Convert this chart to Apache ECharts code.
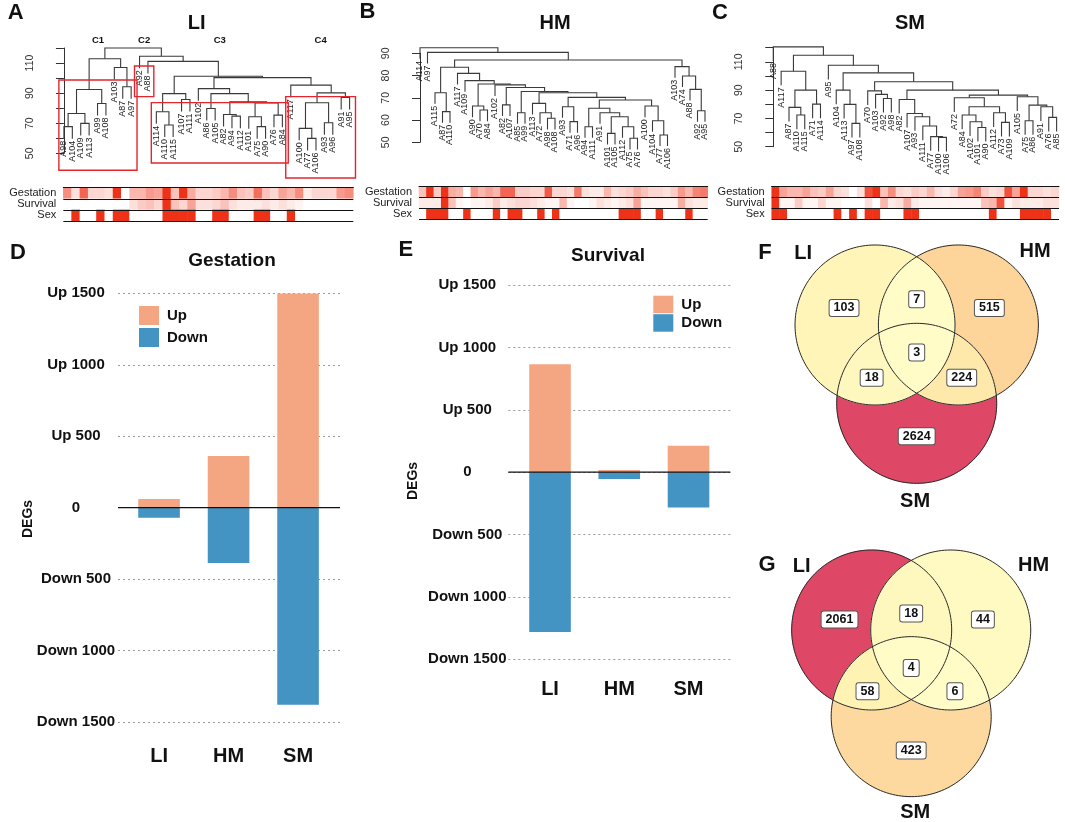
<!DOCTYPE html>
<html>
<head>
<meta charset="utf-8">
<script src="https://cdn.jsdelivr.net/npm/echarts@6/dist/echarts.min.js"></script>
<style>html,body{margin:0;padding:0;background:#fff}#chart{width:1065px;height:822px}</style>
</head>
<body>
<div id="chart"></div>
<script>
// ================= DATA =================
// Dendrograms: nested [left, right, mergeHeight]; leaves are sample names
const LI_tree = [
  [
    [[['A98','A104',67.7],['A109','A113',69.9],76.5],['A99','A108',83.1],92.4],
    ['A103',['A87','A97',94.2],107.0],
    112.9
  ],
  ['A92',
    ['A88',
      [
        [['A114',['A110','A115',68.8],77.6],['A107','A111',85.8],89.7],
        [
          ['A102',[['A86','A105',79.8],[['A82',['A94','A112',74.7],75.8],[['A101',['A75','A90',67.7],74.3],['A76','A84',75.4],83.5],84.2],89.7],93.0],
          ['A117',[[['A100',['A77','A106',59.9],66.6],['A93','A96',70.3],83.6],['A91','A95',87.1],90.2],95.3],
          100.3
        ],
        101.2
      ],
      111.1
    ],
    114.5
  ],
  120.0
];
const HM_tree = ['A114',
  ['A97',
    [
      [
        ['A115',['A87','A110',63.8],72.3],
        ['A117',
          ['A109',
            [
              ['A90',['A70','A84',64.5],66.3],
              ['A102',
                [
                  ['A82','A107',66.8],
                  [
                    ['A85','A99',63.3],
                    [
                      ['A113',['A72',['A98','A108',60.8],63.3],67.5],
                      [
                        ['A93',['A71','A96',59.3],66.0],
                        [
                          [['A94','A111',57.0],['A91',[['A101','A105',54.0],['A112',['A75','A76',51.8],57.0],61.5],63.3],65.3],
                          ['A100',['A104',['A77','A106',53.3],59.7],66.3],
                          69.0
                        ],
                        70.2
                      ],
                      72.3
                    ],
                    72.8
                  ],
                  74.6
                ],
                75.8
              ],
              76.2
            ],
            77.7
          ],
          81.0
        ],
        83.7
      ],
      ['A103',['A74',['A88',['A92','A95',64.2],73.8],79.8],84.0],
      87.0
    ],
    90.4
  ],
  92.5
];
const SM_tree = ['A88',
  [
    ['A117',[['A87',['A110','A115',72.4],77.8],['A71','A114',80.1],90.0],103.4],
    ['A95',
      [
        ['A104',['A113',['A97','A108',66.5],79.9],90.0],
        [
          ['A70',['A103',['A92','A98',84.1],87.0],89.5],
          [
            ['A82',['A107',['A93',['A111',['A77',['A100','A106',56.6],57.1],64.6],71.2],73.5],83.4],
            [
              ['A72',[['A84',['A102',['A101','A90',63.6],67.6],72.4],['A112',['A73','A109',67.2],74.0],78.2],84.6],
              ['A105',[['A75','A86',68.4],['A91',['A76','A85',70.7],78.2],79.4],85.3],
              86.5
            ],
            90.0
          ],
          95.9
        ],
        102.2
      ],
      107.6
    ],
    114.7
  ],
  120.6
];

// Trait colour strips (0 = white, 1 = full red), in leaf order
const HEAT_rows = ['Gestation','Survival','Sex'];
const LI_gestation = [0.55,0.15,0.75,0.2,0.2,0.15,1.0,0.0,0.35,0.35, 0.5,0.45,1.0,0.3,1.0,0.4,0.2,0.2,0.25,0.35, 0.55,0.3,0.25,0.7,0.3,0.2,0.45,0.35,0.55,0.1, 0.2,0.2,0.2,0.5,0.55];
const LI_survival  = [0,0,0,0,0,0,0,0,0.15,0.25, 0.3,0.2,1.0,0.3,0.2,0.45,0.15,0.15,0.2,0.3, 0.15,0.1,0.1,0.1,0.15,0.1,0.15,0.1,0.05,0, 0,0,0,0,0];
const LI_sex       = [0,1,0,0,1,0,1,1,0,0, 0,0,1,1,1,1,0,0,1,1, 0,0,0,1,1,0,0,1,0,0, 0,0,0,0,0];
const HM_gestation = [0.3,1.0,0.25,1.0,0.4,0.35,0,0.5,0.35,0.45, 0.35,0.75,0.75,0.25,0.25,0.2,0.2,0.8,0.2,0.2, 0.15,0.65,0.15,0.1,0.1,0.35,0.15,0.2,0.25,0.4, 0.3,0.2,0.2,0.15,0.25,0.5,0.35,0.6,0.65];
const HM_survival  = [0.1,0.1,0.1,1.0,0.3,0.05,0,0.05,0.05,0.1, 0.25,0.1,0.15,0.2,0.2,0.15,0.1,0.05,0.05,0.35, 0.05,0,0,0.05,0.15,0.1,0.05,0.1,0.15,0.45, 0.05,0.05,0.05,0.05,0.05,0.4,0.15,0.1,0.1];
const HM_sex       = [0,1,1,1,0,0,1,0,0,0, 1,0,1,1,0,0,1,0,1,0, 0,0,0,0,0,0,0,1,1,1, 0,0,1,0,0,0,1,0,0];
const SM_gestation = [1.0,0.45,0.35,0.35,0.45,0.3,0.25,0.45,0.2,0.15, 0,0.15,0.85,1.0,0.3,0.55,0.2,0.15,0.25,0.2, 0.35,0.15,0.1,0.2,0.45,0.5,0.6,0.25,0.15,0.2, 0.85,0.45,1.0,0.2,0.2,0.15,0.2];
const SM_survival  = [1.0,0.05,0.05,0.25,0.05,0.05,0.2,0.05,0.05,0, 0,0,0.15,0,0.35,0.1,0.15,0.4,0.1,0.05, 0.05,0.05,0.05,0.05,0.05,0.05,0.05,0.3,0.35,0.85, 0.05,0.15,0.1,0.1,0.1,0.15,0.15];
const SM_sex       = [1,1,0,0,0,0,0,0,1,0, 1,0,1,1,0,0,0,1,1,0, 0,0,0,0,0,0,0,0,1,0, 0,0,1,1,1,1,0];

// LI clusters (leaf index ranges)
const LI_clusters = ['C1','C2','C3','C4'];
const LI_clusterLeaves = [[0,8],[9,10],[11,26],[27,34]];

// DEG bar charts
const DE_categories = ['LI','HM','SM'];
const gestation_up   = [60, 362, 1498];
const gestation_down = [71, 388, 1380];
const survival_up    = [865, 18, 211];
const survival_down  = [1282, 54, 283];

// Venn counts, region order: LI only, HM only, SM only, LI&HM, LI&SM, HM&SM, all three
const VENN_sets = ['LI','HM','SM'];
const F_counts = [103, 515, 2624, 7, 18, 224, 3];
const G_counts = [2061, 44, 423, 18, 58, 6, 4];

// ================= LAYOUT & STYLE =================
const FONT = "'Liberation Sans', Arial, sans-serif";
const DENDRO_LINE = '#3a3a3a';
const HEAT_RED = '#EE3218';
const BOX_RED = '#E3262E';
const UP_COLOR = '#F4A582';
const DOWN_COLOR = '#4393C3';
const F_COLORS = ['#FFF5B9','#FDD59B','#DE4866','#FFFCC8','#FFF8BE','#FEE8AA','#FFFCC8'];
const G_COLORS = ['#DE4866','#FFFAC2','#FDD9A0','#FFF8BE','#FFF3B4','#FFFCC8','#FFFCC8'];

const DENDRO = [
  {tree: LI_tree, grid:{left:53, top:48, width:305, height:105.3}, x:[-1.3,35], y:[50,120], hang:8, labelMargin:17, labelEvery:20, labelMax:110},
  {tree: HM_tree, grid:{left:408, top:53.3, width:307.5, height:89}, x:[-1.6,39.4], y:[50,90], hang:5, labelMargin:16, labelEvery:10, labelMax:90},
  {tree: SM_tree, grid:{left:758, top:47.7, width:305.7, height:99}, x:[-1.94,36.9], y:[50,120], hang:10, labelMargin:13, labelEvery:20, labelMax:110}
];
const HEAT = [
  {rows:[LI_gestation, LI_survival, LI_sex], grid:{left:63.3, top:187.7, width:290, height:33.3}},
  {rows:[HM_gestation, HM_survival, HM_sex], grid:{left:419, top:186.7, width:288.7, height:32.6}},
  {rows:[SM_gestation, SM_survival, SM_sex], grid:{left:771.7, top:186.7, width:287.3, height:32.6}}
];
const LI_BOX = {padL:0.6, padR:0.7, heights:[[98.7,38.7],[108,87.7],[83.7,43.6],[87.7,33.6]], labelH:125.3};
const BARS = [
  {up:gestation_up, down:gestation_down,
   axisGrid:{left:118, top:293.3, width:222, height:428.7}, barGrid:{left:124.3, top:293.3, width:208.5, height:428.7},
   labelMargin:42, catMargin:24, legend:{left:139, top:306, itemHeight:19, itemGap:3}},
  {up:survival_up, down:survival_down,
   axisGrid:{left:508.3, top:285, width:222, height:374.3}, barGrid:{left:515.4, top:285, width:207.75, height:374.3},
   labelMargin:41, catMargin:20, legend:{left:653.3, top:295.7, itemHeight:17.5, itemGap:1}}
];
const VENN = [
  {counts:F_counts, colors:F_COLORS, grid:{left:764.7, top:229, width:300, height:272}, x:[-1.9,1.85], y:[-2.2,1.2],
   centers:[[-0.521,0],[0.521,0],[0,-0.979]], names:[[-1.42,0.90],[1.48,0.92],[-0.02,-2.21]], labelShift:[0,0]},
  {counts:G_counts, colors:G_COLORS, grid:{left:763.2, top:534, width:300, height:272}, x:[-1.85,1.9], y:[-2.2,1.2],
   centers:[[-0.494,0],[0.494,0],[0,-1.083]], names:[[-1.37,0.79],[1.53,0.81],[0.05,-2.28]], labelShift:[0,-0.065]}
];
const TEXTS = [
  ['A', 15.8, 12.8, 22], ['B', 367.5, 11.7, 22], ['C', 720, 12.5, 22], ['D', 18, 253.3, 22],
  ['E', 405.8, 250, 22], ['F', 765, 253.3, 22], ['G', 767, 565, 22],
  ['LI', 196.7, 23.7, 20], ['HM', 555, 23.3, 20], ['SM', 910, 23.3, 20],
  ['Gestation', 232, 260.8, 19], ['Survival', 608, 255.7, 19]
];
const DEGS_POS = [[28, 519], [413, 481]];

// ================= HELPERS =================
function layoutTree(tree, hang){
  const leaves=[], segs=[], ends=[];
  (function walk(node){
    if (typeof node === 'string'){ leaves.push(node); return {x:leaves.length-1, leaf:true}; }
    const l=walk(node[0]), r=walk(node[1]), h=node[2];
    const yl=l.leaf ? h-hang : l.h, yr=r.leaf ? h-hang : r.h;
    if (l.leaf) ends.push([l.x, yl]);
    if (r.leaf) ends.push([r.x, yr]);
    segs.push([l.x, r.x, yl, yr, h]);
    return {x:(l.x+r.x)/2, h:h, leaf:false};
  })(tree);
  ends.sort((a,b)=>a[0]-b[0]);
  return {leaves, segs, ends};
}

const REGION_SPECS = [
  [[1,0,0], 'AB_out', [[0,'AC_out'],[2,'BC_in'],[1,'AB_out']]],
  [[0,1,0], 'AB_out', [[1,'BC_out'],[2,'AC_in'],[0,'AB_out']]],
  [[0,0,1], 'AC_out', [[2,'BC_out'],[1,'AB_in'],[0,'AC_out']]],
  [[1,1,0], 'AB_out', [[0,'AC_in'],[2,'BC_in'],[1,'AB_out']]],
  [[1,0,1], 'AC_out', [[0,'AB_in'],[1,'BC_in'],[2,'AC_out']]],
  [[0,1,1], 'BC_out', [[1,'AB_in'],[0,'AC_in'],[2,'BC_out']]],
  [[1,1,1], 'AB_in',  [[0,'AC_in'],[2,'BC_in'],[1,'AB_in']]]
];
function centroid(pts){
  let A=0,cx=0,cy=0;
  for (let i=0;i<pts.length;i++){
    const [x0,y0]=pts[i], [x1,y1]=pts[(i+1)%pts.length];
    const f=x0*y1-x1*y0; A+=f; cx+=(x0+x1)*f; cy+=(y0+y1)*f;
  }
  A/=2; return [cx/(6*A), cy/(6*A)];
}
function vennGeometry(centers){
  const C=centers.map(c=>({x:c[0], y:c[1], r:1}));
  const inside=(p,c)=>Math.hypot(p.x-c.x,p.y-c.y) < c.r-1e-7;
  function inter(i,j){
    const a=C[i], b=C[j], dx=b.x-a.x, dy=b.y-a.y, d=Math.hypot(dx,dy);
    const l=(a.r*a.r-b.r*b.r+d*d)/(2*d), h=Math.sqrt(a.r*a.r-l*l);
    const mx=a.x+l*dx/d, my=a.y+l*dy/d;
    const p1={x:mx+h*dy/d, y:my-h*dx/d}, p2={x:mx-h*dy/d, y:my+h*dx/d};
    const k=3-i-j;
    return inside(p1,C[k]) ? {in:p1,out:p2} : {in:p2,out:p1};
  }
  const AB=inter(0,1), AC=inter(0,2), BC=inter(1,2);
  const P={AB_in:AB.in, AB_out:AB.out, AC_in:AC.in, AC_out:AC.out, BC_in:BC.in, BC_out:BC.out};
  function arc(k,p,q,sig){
    const c=C[k];
    const a0=Math.atan2(p.y-c.y,p.x-c.x), a1=Math.atan2(q.y-c.y,q.x-c.x);
    let d=a1-a0; while (d<=0) d+=2*Math.PI;
    const cands=[d, d-2*Math.PI]; let pick=cands[0];
    for (const dd of cands){
      const am=a0+dd/2, m={x:c.x+c.r*Math.cos(am), y:c.y+c.r*Math.sin(am)};
      let ok=true;
      for (let j=0;j<3;j++){ if (j===k) continue; if (inside(m,C[j]) !== !!sig[j]) ok=false; }
      if (ok){ pick=dd; break; }
    }
    const n=Math.max(6, Math.ceil(Math.abs(pick)/0.03)), pts=[];
    for (let s=0;s<=n;s++){ const a=a0+pick*s/n; pts.push([c.x+c.r*Math.cos(a), c.y+c.r*Math.sin(a)]); }
    return pts;
  }
  return REGION_SPECS.map(([sig,start,edges])=>{
    let cur=P[start], poly=[];
    edges.forEach(([k,endKey])=>{ poly=poly.concat(arc(k,cur,P[endKey],sig).slice(0,-1)); cur=P[endKey]; });
    return {poly, centroid:centroid(poly)};
  });
}
function txtStyle(text, size, weight, align, vAlign, extra){
  return Object.assign({text:text, fontSize:size, fontWeight:weight, fontFamily:FONT, fill:'#111',
    align:align, verticalAlign:vAlign, textAlign:align, textVerticalAlign:vAlign}, extra||{});
}

// ================= BUILD OPTION =================
const grids=[], xAxes=[], yAxes=[], series=[], heatIdx=[];
function addGrid(g){ grids.push(Object.assign({containLabel:false}, g)); return grids.length-1; }

DENDRO.forEach(d=>{
  const gi=addGrid(d.grid);
  const lay=layoutTree(d.tree, d.hang); d.layout=lay;
  xAxes.push({gridIndex:gi, type:'value', min:d.x[0], max:d.x[1], show:false});
  yAxes.push({gridIndex:gi, type:'value', min:d.y[0], max:d.y[1], interval:10,
    axisLine:{show:true, lineStyle:{color:'#333', width:1}},
    axisTick:{show:true, length:8, lineStyle:{color:'#333', width:1}},
    splitLine:{show:false},
    axisLabel:{rotate:90, margin:d.labelMargin, fontSize:10.5, fontFamily:FONT, color:'#333',
      formatter:v=>(((v-d.y[0])%d.labelEvery===0) && v<=d.labelMax) ? String(v) : ''}});
  series.push({type:'custom', xAxisIndex:gi, yAxisIndex:gi, silent:true, clip:false,
    dimensions:['xl','xr','yl','yr','h'], encode:{x:[0,1], y:[2,3,4]}, data:lay.segs,
    renderItem:(p,api)=>({type:'polyline', shape:{points:[
        api.coord([api.value(0),api.value(2)]), api.coord([api.value(0),api.value(4)]),
        api.coord([api.value(1),api.value(4)]), api.coord([api.value(1),api.value(3)])]},
      style:{stroke:DENDRO_LINE, lineWidth:1.1, fill:'none'}})});
  series.push({type:'custom', xAxisIndex:gi, yAxisIndex:gi, silent:true, clip:false, data:lay.ends,
    renderItem:(p,api)=>{
      const pt=api.coord([api.value(0),api.value(1)]);
      return {type:'text', x:pt[0], y:pt[1]+2, rotation:Math.PI/2,
        style:txtStyle(lay.leaves[p.dataIndex], 9, 'normal', 'right', 'middle', {fill:'#222'})};
    }});
});

// LI cluster boxes
series.push({type:'custom', xAxisIndex:0, yAxisIndex:0, silent:true, clip:false, z:4,
  data:LI_clusterLeaves.map(r=>[r[0],r[1]]),
  renderItem:(p,api)=>{
    const i=p.dataIndex, f=api.value(0), l=api.value(1), hh=LI_BOX.heights[i];
    const p0=api.coord([f-LI_BOX.padL, hh[0]]), p1=api.coord([l+LI_BOX.padR, hh[1]]);
    const lp=api.coord([(f-LI_BOX.padL+l+LI_BOX.padR)/2, LI_BOX.labelH]);
    return {type:'group', children:[
      {type:'rect', shape:{x:p0[0], y:p0[1], width:p1[0]-p0[0], height:p1[1]-p0[1]}, style:{fill:'none', stroke:BOX_RED, lineWidth:1.4}},
      {type:'text', x:lp[0], y:lp[1], style:txtStyle(LI_clusters[i], 9.5, 'bold', 'center', 'middle')}
    ]};
  }});

HEAT.forEach((h,hi)=>{
  const gi=addGrid(h.grid);
  xAxes.push({gridIndex:gi, type:'category', data:DENDRO[hi].layout.leaves, position:'top', z:10,
    axisLine:{show:true, lineStyle:{color:'#111', width:1}}, axisTick:{show:false}, axisLabel:{show:false}, splitLine:{show:false}});
  yAxes.push({gridIndex:gi, type:'category', data:HEAT_rows, inverse:true, z:10,
    axisLine:{show:false}, axisTick:{show:false},
    axisLabel:{interval:0, fontSize:11, fontFamily:FONT, color:'#222', margin:7},
    splitLine:{show:true, interval:0, lineStyle:{color:'#111', width:1}}});
  const data=[];
  h.rows.forEach((arr,r)=>arr.forEach((v,c)=>data.push([c,r,v])));
  heatIdx.push(series.length);
  series.push({type:'heatmap', xAxisIndex:gi, yAxisIndex:gi, data:data, itemStyle:{borderWidth:0}, silent:true, z:1});
});

BARS.forEach(b=>{
  const ga=addGrid(b.axisGrid), gb=addGrid(b.barGrid);
  xAxes.push({gridIndex:ga, type:'value', min:0, max:1, show:false});
  yAxes.push({gridIndex:ga, type:'value', min:-1500, max:1500, interval:500,
    axisLine:{show:false}, axisTick:{show:false},
    splitLine:{show:true, lineStyle:{color:'#9a9a9a', type:[2,3], width:1}},
    axisLabel:{formatter:v=>v>0?('Up '+v):(v<0?('Down '+(-v)):'0'), align:'center', margin:b.labelMargin,
      fontFamily:FONT, fontWeight:'bold', fontSize:15, color:'#111'}});
  xAxes.push({gridIndex:gb, type:'category', data:DE_categories, axisLine:{show:false}, axisTick:{show:false},
    axisLabel:{margin:b.catMargin, fontFamily:FONT, fontWeight:'bold', fontSize:20, color:'#111'}});
  yAxes.push({gridIndex:gb, type:'value', min:-1500, max:1500, show:false});
  series.push({type:'line', xAxisIndex:ga, yAxisIndex:ga, data:[[0,0],[1,0]], symbol:'none', silent:true,
    lineStyle:{color:'#111', width:1.2}, z:5});
  series.push({name:'Up', type:'bar', xAxisIndex:gb, yAxisIndex:gb, data:b.up, barWidth:41.6, itemStyle:{color:UP_COLOR}, z:2});
  series.push({name:'Down', type:'bar', xAxisIndex:gb, yAxisIndex:gb, data:b.down.map(v=>-v), barWidth:41.6, barGap:'-100%', itemStyle:{color:DOWN_COLOR}, z:2});
});

VENN.forEach(v=>{
  const gi=addGrid(v.grid);
  xAxes.push({gridIndex:gi, type:'value', min:v.x[0], max:v.x[1], show:false});
  yAxes.push({gridIndex:gi, type:'value', min:v.y[0], max:v.y[1], show:false});
  const geo=vennGeometry(v.centers);
  series.push({type:'custom', xAxisIndex:gi, yAxisIndex:gi, silent:true, clip:false, z:2,
    data:v.counts.map((c,i)=>[i,c]),
    renderItem:(p,api)=>({type:'polygon', shape:{points:geo[p.dataIndex].poly.map(pt=>api.coord(pt))},
      style:{fill:v.colors[p.dataIndex], stroke:v.colors[p.dataIndex], lineWidth:0.6}})});
  series.push({type:'custom', xAxisIndex:gi, yAxisIndex:gi, silent:true, clip:false, z:3,
    data:VENN_sets.map((s,i)=>[i,0]),
    renderItem:(p,api)=>{
      const c=v.centers[p.dataIndex], pts=[];
      for (let k=0;k<=160;k++){ const a=k/160*2*Math.PI; pts.push(api.coord([c[0]+Math.cos(a), c[1]+Math.sin(a)])); }
      const np=api.coord(v.names[p.dataIndex]);
      return {type:'group', children:[
        {type:'polyline', shape:{points:pts}, style:{fill:'none', stroke:'#2a2a2a', lineWidth:1}},
        {type:'text', x:np[0], y:np[1], style:txtStyle(VENN_sets[p.dataIndex], 20, 'bold', 'center', 'middle')}
      ]};
    }});
  series.push({type:'custom', xAxisIndex:gi, yAxisIndex:gi, silent:true, clip:false, z:4,
    data:v.counts.map((c,i)=>[i,c]),
    renderItem:(p,api)=>{
      const cc=geo[p.dataIndex].centroid;
      const c=api.coord([cc[0]+v.labelShift[0], cc[1]+v.labelShift[1]]);
      return {type:'text', x:c[0], y:c[1], style:txtStyle(String(api.value(1)), 12.5, 'bold', 'center', 'middle',
        {backgroundColor:'#fff', borderColor:'#555', borderWidth:1, borderRadius:2, padding:[2,4,1,4]})};
    }});
});

const graphics = TEXTS.map(t=>({type:'text', x:t[1], y:t[2], z:10,
  style:txtStyle(t[0], t[3], 'bold', 'center', 'middle')}));
DEGS_POS.forEach(p=>graphics.push({type:'text', x:p[0], y:p[1], rotation:Math.PI/2, z:10,
  style:txtStyle('DEGs', 14, 'bold', 'center', 'middle')}));

const option = {
  animation:false,
  backgroundColor:'#fff',
  grid:grids, xAxis:xAxes, yAxis:yAxes, series:series,
  visualMap:{type:'continuous', show:false, min:0, max:1, dimension:2, seriesIndex:heatIdx, inRange:{color:['#ffffff', HEAT_RED]}},
  legend:BARS.map(b=>({data:['Up','Down'], orient:'vertical', left:b.legend.left, top:b.legend.top, padding:0,
    itemWidth:20, itemHeight:b.legend.itemHeight, itemGap:b.legend.itemGap, icon:'rect', selectedMode:false,
    textStyle:{fontFamily:FONT, fontWeight:'bold', fontSize:15, color:'#111', padding:[0,0,0,3]}})),
  graphic:{elements:graphics}
};
const chart = echarts.init(document.getElementById('chart'));
chart.setOption(option);
</script>
</body>
</html>
